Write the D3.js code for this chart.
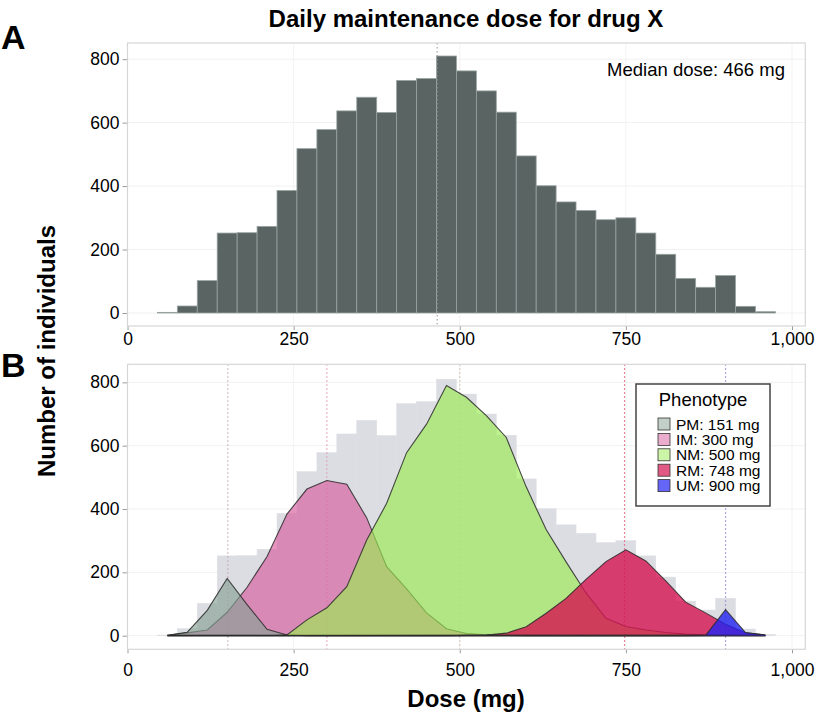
<!DOCTYPE html>
<html><head><meta charset="utf-8">
<script src="https://cdn.jsdelivr.net/npm/d3@7"></script>
<style>
body{margin:0;background:#fff;}
svg{display:block;}
text{font-family:"Liberation Sans",Arial,Helvetica,sans-serif;fill:#000;}
</style>
</head><body>
<svg id="chart" width="817" height="716"></svg>
<script>
// ---------- DATA ----------
const doseMid = [60,90,120,150,180,210,240,270,300,330,360,390,420,450,480,510,540,570,600,630,660,690,720,750,780,810,840,870,900,930,960];
const binWidth = 30;
const totalCounts = [2,22,102,252,253,273,386,518,578,637,680,632,733,739,810,763,700,633,495,401,350,323,294,300,252,185,109,81,118,21,4];
const pmCounts = [1,11,80,181,98,20,2,0,0,0,0,0,0,0,0,0,0,0,0,0,0,0,0,0,0,0,0,0,0,0,0];
const imCounts = [1,9,18,74,153,250,384,463,490,478,372,218,148,72,22,7,3,1,0,0,0,0,0,0,0,0,0,0,0,0,0];
const nmCounts = [0,0,0,0,0,0,2,50,88,155,302,418,578,668,790,753,695,626,470,335,233,135,55,29,18,10,5,3,2,1,0];
const rmCounts = [0,0,0,0,0,0,0,0,0,0,0,0,0,0,0,1,2,8,28,71,118,178,234,271,236,173,106,72,36,9,2];
const umCounts = [0,0,0,0,0,0,0,0,0,0,0,0,0,0,0,0,0,0,0,0,0,0,0,0,0,0,0,1,82,10,2];
const phenoNames = ["PM","IM","NM","RM","UM"];
const phenoDoses = [151,300,500,748,900];
const medianDose = 466;
const xTicks = [0,250,500,750,1000];
const yTicks = [0,200,400,600,800];
const titleText = "Daily maintenance dose for drug X";

// ---------- STYLE ----------
const phenoFill = {PM:"#87a195", IM:"#d75c9d", NM:"#9beb51", RM:"#d41451", UM:"#2323f3"};
const phenoOpacity = {PM:0.65, IM:0.65, NM:0.65, RM:0.8, UM:0.8};
const swatchOpacity = {PM:0.5, IM:0.5, NM:0.5, RM:0.7, UM:0.7};
const phenoLine = {PM:"#c8a6b8", IM:"#e59ab9", NM:"#cfc0b0", RM:"#e0607f", UM:"#8f8fd6"};
const drawOrder = ["IM","PM","NM","RM","UM"];
const seriesMap = {PM:pmCounts, IM:imCounts, NM:nmCounts, RM:rmCounts, UM:umCounts};

const svg = d3.select("#chart");
const x = d3.scaleLinear().domain([0,1020]).range([127.5,805.3]);
const plotL = 127.5, plotR = 805.3;
const yA = d3.scaleLinear().domain([-41,851]).range([326,43]);
const yB = d3.scaleLinear().domain([-43,857]).range([649.3,364.3]);

function frame(y, top, bottom, labelPad){
  const g = svg.append("g");
  g.append("rect").attr("x",plotL).attr("y",top).attr("width",plotR-plotL).attr("height",bottom-top)
    .attr("fill","#fff");
  g.selectAll(".gy").data(yTicks).join("line")
    .attr("x1",plotL).attr("x2",plotR).attr("y1",d=>y(d)).attr("y2",d=>y(d))
    .attr("stroke","#f1f1f1").attr("stroke-width",1);
  g.selectAll(".gx").data(xTicks).join("line")
    .attr("x1",d=>x(d)).attr("x2",d=>x(d)).attr("y1",top).attr("y2",bottom)
    .attr("stroke","#f3f3f3").attr("stroke-width",1);
  const ax = svg.append("g").attr("transform",`translate(0,${bottom})`)
    .call(d3.axisBottom(x).tickValues(xTicks).tickFormat(d3.format(",")).tickSize(4).tickPadding(labelPad));
  const ay = svg.append("g").attr("transform",`translate(${plotL},0)`)
    .call(d3.axisLeft(y).tickValues(yTicks).tickSize(5).tickPadding(3));
  [ax,ay].forEach(a=>{
    a.select(".domain").remove();
    a.selectAll("line").attr("stroke","#9a9a9a");
    a.selectAll("text").style("font-size","17.5px").style("font-family","'Liberation Sans',Arial,sans-serif").attr("fill","#000");
  });
  return g;
}
function border(top,bottom){
  svg.append("rect").attr("x",plotL).attr("y",top).attr("width",plotR-plotL).attr("height",bottom-top)
    .attr("fill","none").attr("stroke","#d6d6d6").attr("stroke-width",1.2);
}

// ---------- PANEL A ----------
frame(yA,43,326,3);
const histData = doseMid.map((m,i)=>({m, v: totalCounts[i]}));
svg.append("g").selectAll("rect").data(histData).join("rect")
  .attr("x",d=>x(d.m-binWidth/2)).attr("width",d=>x(d.m+binWidth/2)-x(d.m-binWidth/2))
  .attr("y",d=>yA(d.v)).attr("height",d=>yA(0)-yA(d.v))
  .attr("fill","#5a6563").attr("stroke","#98a3a1").attr("stroke-width",0.8);
svg.append("line").attr("x1",x(medianDose)).attr("x2",x(medianDose)).attr("y1",43).attr("y2",326)
  .attr("stroke","#8d9593").attr("stroke-width",1).attr("stroke-dasharray","1.5,2.5");
border(43,326);
svg.append("text").attr("x",785).attr("y",76).attr("text-anchor","end")
  .style("font-size","18.5px").text(`Median dose: ${medianDose} mg`);

// ---------- PANEL B ----------
frame(yB,364.3,649.3,10);
svg.append("g").selectAll("rect").data(histData).join("rect")
  .attr("x",d=>x(d.m-binWidth/2)).attr("width",d=>x(d.m+binWidth/2)-x(d.m-binWidth/2))
  .attr("y",d=>yB(d.v)).attr("height",d=>yB(0)-yB(d.v))
  .attr("fill","#dcdde2").attr("stroke","#dcdde2").attr("stroke-width",0.5);
phenoNames.forEach((p,i)=>{
  svg.append("line").attr("x1",x(phenoDoses[i])).attr("x2",x(phenoDoses[i])).attr("y1",364.3).attr("y2",649.3)
    .attr("stroke",phenoLine[p]).attr("stroke-width",1.2).attr("stroke-dasharray","1.5,2.5");
});
const area = d3.area().x(d=>x(d.m)).y0(yB(0)).y1(d=>yB(d.v));
const lineGen = d3.line().x(d=>x(d.m)).y(d=>yB(d.v));
drawOrder.forEach(p=>{
  const data = doseMid.map((m,i)=>({m, v: seriesMap[p][i]}));
  svg.append("path").datum(data).attr("d",area)
    .attr("fill",phenoFill[p]).attr("fill-opacity",phenoOpacity[p]).attr("stroke","none");
  svg.append("path").datum(data).attr("d",d=>lineGen(d)+"Z")
    .attr("fill","none").attr("stroke","#2a2a2a").attr("stroke-width",1.1).attr("stroke-opacity",0.85);
});
border(364.3,649.3);

// legend
const lg = svg.append("g");
lg.append("rect").attr("x",636).attr("y",384).attr("width",134).attr("height",122)
  .attr("fill","#fff").attr("stroke","#444").attr("stroke-width",1.5);
lg.append("text").attr("x",703).attr("y",405.5).attr("text-anchor","middle").style("font-size","18.5px").text("Phenotype");
phenoNames.forEach((p,i)=>{
  const cy = 424 + i*15.4;
  lg.append("rect").attr("x",658).attr("y",cy-6).attr("width",12).attr("height",12)
    .attr("fill",phenoFill[p]).attr("fill-opacity",swatchOpacity[p]).attr("stroke","#333").attr("stroke-width",0.8);
  lg.append("text").attr("x",676).attr("y",cy+5.5).style("font-size","15.5px").text(`${p}: ${phenoDoses[i]} mg`);
});

// ---------- TITLES ----------
svg.append("text").attr("x",466).attr("y",27).attr("text-anchor","middle")
  .style("font-size","24px").style("font-weight","bold").text(titleText);
svg.append("text").attr("x",466).attr("y",707).attr("text-anchor","middle")
  .style("font-size","24px").style("font-weight","bold").text("Dose (mg)");
svg.append("text").attr("transform","translate(55,351) rotate(-90)").attr("text-anchor","middle")
  .style("font-size","24px").style("font-weight","bold").text("Number of individuals");
svg.append("text").attr("x",1).attr("y",49).style("font-size","34px").style("font-weight","bold").text("A");
svg.append("text").attr("x",1).attr("y",377).style("font-size","34px").style("font-weight","bold").text("B");
</script>
</body></html>
